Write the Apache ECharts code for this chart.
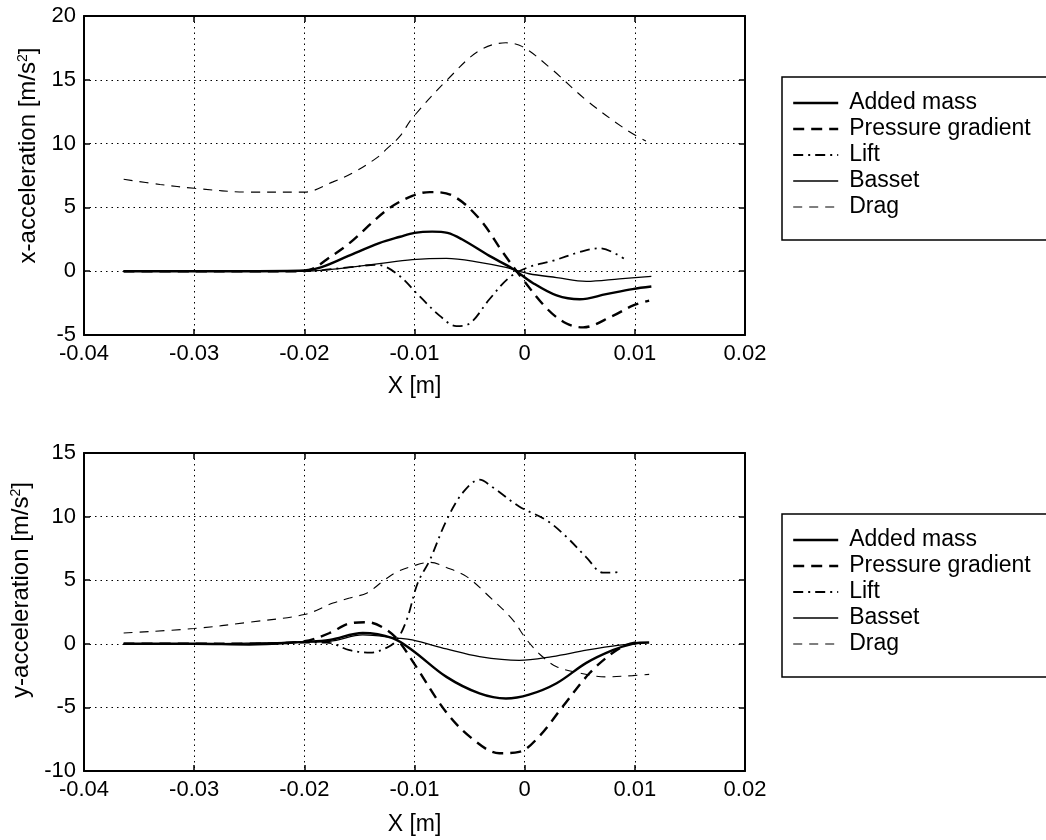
<!DOCTYPE html>
<html>
<head>
<meta charset="utf-8">
<script src="https://cdn.jsdelivr.net/npm/echarts@6/dist/echarts.min.js"></script>
<style>
  html, body { margin: 0; padding: 0; background: #fff; }
  #chart { width: 1046px; height: 840px; }
</style>
</head>
<body>
<div id="chart"></div>
<script>
// ---------- Data ----------
const seriesNames = ['Added mass', 'Pressure gradient', 'Lift', 'Basset', 'Drag'];
const xTicks = [-0.04, -0.03, -0.02, -0.01, 0, 0.01, 0.02];

// Top panel: x-acceleration
const topAddedX = [-0.0364, -0.030, -0.025, -0.020, -0.0185, -0.0160, -0.0132, -0.0113, -0.0100, -0.0084, -0.0070, -0.0057, -0.0032, -0.0011, 0.0007, 0.0029, 0.0050, 0.0074, 0.0098, 0.0115];
const topAddedY = [0, 0, 0, 0.05, 0.3, 1.2, 2.2, 2.7, 3.0, 3.1, 3.0, 2.5, 1.2, 0.2, -0.9, -1.9, -2.2, -1.8, -1.4, -1.2];

const topPressX = [-0.0364, -0.030, -0.025, -0.020, -0.0190, -0.0180, -0.0159, -0.0125, -0.0102, -0.0086, -0.0065, -0.0041, -0.0020, -0.0002, 0.0021, 0.0038, 0.0053, 0.0080, 0.0098, 0.0113];
const topPressY = [0, 0, 0, 0, 0.3, 0.9, 2.2, 4.8, 5.9, 6.2, 5.9, 4.1, 1.5, -0.6, -3.0, -4.1, -4.4, -3.5, -2.7, -2.3];

const topLiftX = [-0.0364, -0.030, -0.025, -0.020, -0.0160, -0.0134, -0.0116, -0.0095, -0.0077, -0.0062, -0.0050, -0.0032, -0.0014, 0.0003, 0.0025, 0.0050, 0.0068, 0.0090];
const topLiftY = [0, 0, 0, 0, 0.3, 0.5, -0.2, -2.0, -3.5, -4.3, -4.1, -2.2, -0.5, 0.3, 0.8, 1.5, 1.8, 1.0];

const topBassetX = [-0.0364, -0.030, -0.025, -0.020, -0.018, -0.0150, -0.0132, -0.0102, -0.0071, -0.0041, -0.0017, 0.0004, 0.0029, 0.0056, 0.0086, 0.0115];
const topBassetY = [0, 0, 0, 0, 0.1, 0.4, 0.6, 0.9, 1.0, 0.7, 0.3, -0.2, -0.5, -0.8, -0.6, -0.4];

const topDragX = [-0.0364, -0.0331, -0.030, -0.025, -0.020, -0.0174, -0.0156, -0.0134, -0.0125, -0.0113, -0.0102, -0.0068, -0.0041, -0.0017, -0.0002, 0.0025, 0.0056, 0.0092, 0.0110];
const topDragY = [7.2, 6.8, 6.5, 6.2, 6.2, 7.0, 7.7, 8.9, 9.6, 10.6, 12.0, 15.2, 17.3, 17.9, 17.6, 15.8, 13.4, 11.1, 10.2];

// Bottom panel: y-acceleration
const botAddedX = [-0.0364, -0.030, -0.025, -0.020, -0.0177, -0.0147, -0.0120, -0.0102, -0.0071, -0.0041, -0.0017, 0.0004, 0.0029, 0.0056, 0.0080, 0.0098, 0.0113];
const botAddedY = [0, 0, -0.05, 0.15, 0.3, 0.85, 0.45, -0.5, -2.6, -3.9, -4.3, -4.0, -3.1, -1.5, -0.5, 0.0, 0.1];

const botPressX = [-0.0364, -0.030, -0.025, -0.020, -0.0177, -0.0159, -0.0143, -0.0129, -0.0116, -0.0100, -0.0071, -0.0047, -0.0023, -0.0005, 0.0013, 0.0034, 0.0059, 0.0080, 0.0092, 0.0101];
const botPressY = [0, 0, 0, 0.2, 0.85, 1.6, 1.7, 1.3, 0.4, -1.6, -5.4, -7.5, -8.6, -8.5, -7.3, -5.0, -2.3, -0.7, -0.1, 0.1];

const botLiftX = [-0.0364, -0.030, -0.025, -0.020, -0.0180, -0.0159, -0.0140, -0.0125, -0.0116, -0.0107, -0.0097, -0.0086, -0.0071, -0.0056, -0.0041, -0.0029, -0.0005, 0.0020, 0.0038, 0.0056, 0.0071, 0.0080, 0.0088];
const botLiftY = [0, 0, 0, 0.1, 0.1, -0.5, -0.7, -0.3, 0.3, 1.9, 4.8, 6.6, 9.7, 11.9, 12.9, 12.3, 10.8, 9.7, 8.4, 6.8, 5.6, 5.6, 5.7];

const botBassetX = [-0.0364, -0.030, -0.025, -0.020, -0.0177, -0.0147, -0.0116, -0.0102, -0.0071, -0.0041, -0.0005, 0.0025, 0.0056, 0.0086, 0.0110];
const botBassetY = [0, 0, 0.05, 0.15, 0.2, 0.7, 0.45, 0.3, -0.4, -1.0, -1.3, -1.0, -0.5, -0.1, 0.1];

const botDragX = [-0.0364, -0.030, -0.025, -0.020, -0.0174, -0.0159, -0.0143, -0.0129, -0.0117, -0.0102, -0.0086, -0.0071, -0.0053, -0.0032, -0.0011, 0.0002, 0.0016, 0.0029, 0.0050, 0.0074, 0.0098, 0.0113];
const botDragY = [0.85, 1.2, 1.7, 2.3, 3.2, 3.6, 4.0, 4.9, 5.6, 6.1, 6.4, 6.0, 5.3, 3.7, 1.9, 0.3, -1.0, -1.8, -2.3, -2.6, -2.5, -2.4];

// ---------- Chart ----------
const FONT = '"Liberation Sans", Arial, Helvetica, sans-serif';
const zip = (xs, ys) => xs.map((x, i) => [x, ys[i]]);

const styles = {
  'Added mass':        { width: 2.4, type: 'solid' },
  'Pressure gradient': { width: 2.4, type: [11, 7] },
  'Lift':              { width: 1.8, type: [10, 5, 2, 5] },
  'Basset':            { width: 1.3, type: 'solid' },
  'Drag':              { width: 1.1, type: [9, 7] }
};

function makeSeries(name, xs, ys, idx) {
  return {
    name: name,
    type: 'line',
    xAxisIndex: idx,
    yAxisIndex: idx,
    data: zip(xs, ys),
    smooth: 0.35,
    symbol: 'none',
    silent: true,
    animation: false,
    lineStyle: { color: '#000', width: styles[name].width, type: styles[name].type },
    itemStyle: { color: '#000' }
  };
}

function xAxisMain(gridIndex, nameGap) {
  return {
    type: 'value', gridIndex: gridIndex, min: -0.04, max: 0.02, interval: 0.01,
    position: 'bottom',
    name: 'X [m]', nameLocation: 'middle', nameGap: nameGap,
    nameTextStyle: { fontFamily: FONT, fontSize: 23, color: '#000' },
    axisLine: { show: true, onZero: false, lineStyle: { color: '#000', width: 2 } },
    axisTick: { show: true, inside: true, length: 6, lineStyle: { color: '#000', width: 1.5 } },
    axisLabel: { fontFamily: FONT, fontSize: 22, color: '#000', margin: 8,
      formatter: v => { const t = xTicks.find(k => Math.abs(k - v) < 1e-9); return String(t !== undefined ? t : v); } },
    splitLine: { show: true, lineStyle: { color: '#000', width: 1, type: [1.5, 4] } }
  };
}
function xAxisTop(gridIndex) {
  return {
    type: 'value', gridIndex: gridIndex, min: -0.04, max: 0.02, interval: 0.01,
    position: 'top',
    axisLine: { show: true, onZero: false, lineStyle: { color: '#000', width: 2 } },
    axisTick: { show: true, inside: true, length: 6, lineStyle: { color: '#000', width: 1.5 } },
    axisLabel: { show: false }, splitLine: { show: false }
  };
}
function yAxisMain(gridIndex, min, max, name, padLeft) {
  return {
    type: 'value', gridIndex: gridIndex, min: min, max: max, interval: 5,
    position: 'left',
    name: name, nameLocation: 'middle', nameGap: 44, nameRotate: 90,
    nameTextStyle: { fontFamily: FONT, fontSize: 24, color: '#000', padding: [0, 0, 0, padLeft],
      rich: { sup: { fontFamily: FONT, fontSize: 14, color: '#000', verticalAlign: 'top', padding: [0, 0, 8, 0] } } },
    axisLine: { show: true, onZero: false, lineStyle: { color: '#000', width: 2 } },
    axisTick: { show: true, inside: true, length: 6, lineStyle: { color: '#000', width: 1.5 } },
    axisLabel: { fontFamily: FONT, fontSize: 22, color: '#000', margin: 8 },
    splitLine: { show: true, lineStyle: { color: '#000', width: 1, type: [1.5, 4] } }
  };
}
function yAxisRight(gridIndex, min, max) {
  return {
    type: 'value', gridIndex: gridIndex, min: min, max: max, interval: 5,
    position: 'right',
    axisLine: { show: true, onZero: false, lineStyle: { color: '#000', width: 2 } },
    axisTick: { show: true, inside: true, length: 6, lineStyle: { color: '#000', width: 1.5 } },
    axisLabel: { show: false }, splitLine: { show: false }
  };
}

function legendAt(top) {
  return {
    show: true,
    orient: 'vertical',
    left: 782, top: top,
    data: seriesNames.map(n => ({
      name: n,
      lineStyle: { color: '#000', width: styles[n].width, type: styles[n].type }
    })),
    itemWidth: 45, itemHeight: 14, itemGap: 0,
    padding: [13, 30, 20, 10],
    borderColor: '#000', borderWidth: 1.5, backgroundColor: '#fff',
    selectedMode: false,
    textStyle: { fontFamily: FONT, fontSize: 23, color: '#000', lineHeight: 26, padding: [0, 0, 0, 6] },
    itemStyle: { color: 'rgba(0,0,0,0)', borderWidth: 0, opacity: 0 }
  };
}

const option = {
  backgroundColor: '#fff',
  animation: false,
  grid: [
    { left: 84, top: 16, width: 661, height: 319, show: false },
    { left: 84, top: 453, width: 661, height: 318, show: false }
  ],
  xAxis: [xAxisMain(0, 40), xAxisMain(1, 42), xAxisTop(0), xAxisTop(1)],
  yAxis: [
    yAxisMain(0, -5, 20, 'x-acceleration [m/s{sup|2}]', 40),
    yAxisMain(1, -10, 15, 'y-acceleration [m/s{sup|2}]', 44),
    yAxisRight(0, -5, 20),
    yAxisRight(1, -10, 15)
  ],
  legend: [legendAt(77), legendAt(514)],
  series: [
    makeSeries('Added mass', topAddedX, topAddedY, 0),
    makeSeries('Pressure gradient', topPressX, topPressY, 0),
    makeSeries('Lift', topLiftX, topLiftY, 0),
    makeSeries('Basset', topBassetX, topBassetY, 0),
    makeSeries('Drag', topDragX, topDragY, 0),
    makeSeries('Added mass', botAddedX, botAddedY, 1),
    makeSeries('Pressure gradient', botPressX, botPressY, 1),
    makeSeries('Lift', botLiftX, botLiftY, 1),
    makeSeries('Basset', botBassetX, botBassetY, 1),
    makeSeries('Drag', botDragX, botDragY, 1)
  ]
};

const chart = echarts.init(document.getElementById('chart'), null, { renderer: 'canvas' });
chart.setOption(option);
</script>
</body>
</html>
